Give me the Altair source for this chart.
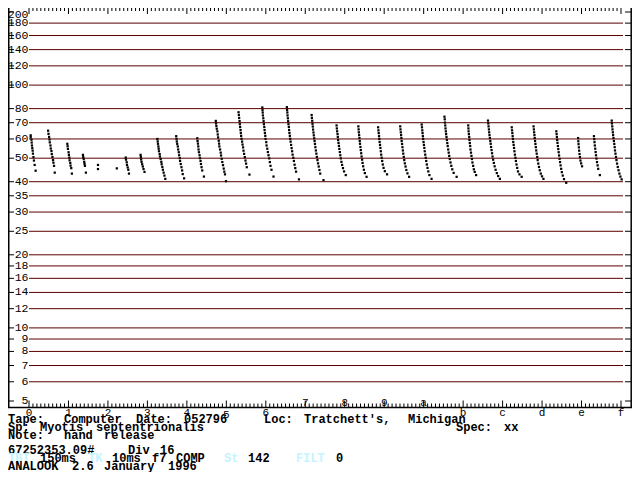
import re
import altair as alt
import pandas as pd

# ---------------- data (time in display units 0..f, frequency in kHz) ----------------
pulse_t = [
    [0.043, 0.043, 0.063, 0.068, 0.075, 0.083, 0.093, 0.100, 0.113, 0.125, 0.143, 0.168],
    [0.484, 0.494, 0.509, 0.519, 0.527, 0.544, 0.552, 0.569, 0.577, 0.594, 0.609, 0.619, 0.634, 0.652],
    [0.971, 0.978, 0.986, 1.003, 1.011, 1.021, 1.028, 1.046, 1.053, 1.071, 1.086],
    [1.367, 1.374, 1.387, 1.400, 1.407, 1.417, 1.442],
    [1.748, 1.748],
    [2.225],
    [2.450, 2.458, 2.476, 2.483, 2.501, 2.516, 2.533],
    [2.827, 2.834, 2.842, 2.852, 2.867, 2.884, 2.902, 2.927],
    [3.253, 3.261, 3.268, 3.278, 3.286, 3.293, 3.311, 3.318, 3.336, 3.353, 3.361, 3.378, 3.393, 3.411, 3.431, 3.454],
    [3.730, 3.737, 3.745, 3.755, 3.770, 3.780, 3.795, 3.805, 3.820, 3.828, 3.845, 3.863, 3.880, 3.895, 3.930],
    [4.264, 4.271, 4.281, 4.289, 4.296, 4.306, 4.322, 4.332, 4.347, 4.357, 4.372, 4.389, 4.432],
    [4.733, 4.740, 4.748, 4.758, 4.773, 4.783, 4.791, 4.808, 4.816, 4.823, 4.841, 4.858, 4.866, 4.883, 4.898, 4.916, 4.934, 4.949, 4.966, 4.991],
    [5.310, 5.317, 5.325, 5.335, 5.342, 5.350, 5.360, 5.367, 5.375, 5.385, 5.400, 5.410, 5.425, 5.435, 5.450, 5.468, 5.485, 5.500, 5.518, 5.586],
    [5.912, 5.917, 5.922, 5.927, 5.937, 5.944, 5.952, 5.962, 5.969, 5.977, 5.987, 5.994, 6.012, 6.019, 6.037, 6.052, 6.069, 6.087, 6.102, 6.119, 6.144, 6.195],
    [6.534, 6.539, 6.546, 6.551, 6.559, 6.566, 6.574, 6.584, 6.591, 6.599, 6.609, 6.619, 6.629, 6.641, 6.654, 6.667, 6.679, 6.697, 6.712, 6.729, 6.747, 6.767, 6.840],
    [7.161, 7.168, 7.176, 7.183, 7.191, 7.198, 7.208, 7.216, 7.226, 7.236, 7.246, 7.256, 7.269, 7.281, 7.294, 7.309, 7.324, 7.341, 7.359, 7.379, 7.462],
    [7.793, 7.800, 7.808, 7.818, 7.825, 7.833, 7.843, 7.853, 7.863, 7.876, 7.888, 7.901, 7.916, 7.933, 7.956, 7.983, 8.026],
    [8.345, 8.352, 8.357, 8.365, 8.372, 8.380, 8.387, 8.397, 8.407, 8.417, 8.427, 8.440, 8.452, 8.467, 8.485, 8.510, 8.553],
    [8.846, 8.854, 8.861, 8.869, 8.876, 8.884, 8.894, 8.904, 8.914, 8.924, 8.936, 8.949, 8.964, 8.984, 9.016, 9.072],
    [9.406, 9.413, 9.421, 9.428, 9.436, 9.443, 9.453, 9.463, 9.473, 9.483, 9.496, 9.508, 9.523, 9.541, 9.561, 9.589, 9.631],
    [9.950, 9.957, 9.965, 9.972, 9.980, 9.987, 9.997, 10.007, 10.017, 10.027, 10.040, 10.052, 10.065, 10.080, 10.097, 10.117, 10.145, 10.200],
    [10.527, 10.534, 10.539, 10.547, 10.554, 10.562, 10.569, 10.579, 10.589, 10.599, 10.609, 10.622, 10.634, 10.647, 10.662, 10.680, 10.700, 10.725, 10.760, 10.835],
    [11.129, 11.134, 11.139, 11.146, 11.154, 11.161, 11.169, 11.179, 11.186, 11.199, 11.211, 11.224, 11.236, 11.254, 11.271, 11.294, 11.329],
    [11.630, 11.638, 11.645, 11.653, 11.660, 11.668, 11.678, 11.688, 11.698, 11.708, 11.720, 11.733, 11.745, 11.760, 11.778, 11.798, 11.823, 11.853, 11.888, 11.931],
    [12.232, 12.240, 12.247, 12.255, 12.262, 12.270, 12.280, 12.290, 12.300, 12.312, 12.325, 12.337, 12.352, 12.370, 12.390, 12.427, 12.483],
    [12.784, 12.792, 12.799, 12.807, 12.814, 12.822, 12.832, 12.842, 12.852, 12.864, 12.877, 12.889, 12.904, 12.922, 12.942, 12.967, 12.999, 13.035],
    [13.361, 13.369, 13.376, 13.384, 13.391, 13.401, 13.411, 13.421, 13.431, 13.444, 13.456, 13.469, 13.484, 13.501, 13.524, 13.556, 13.612],
    [13.913, 13.918, 13.925, 13.933, 13.940, 13.950, 13.960, 13.973, 13.990, 14.013],
    [14.314, 14.322, 14.329, 14.337, 14.347, 14.357, 14.367, 14.379, 14.392, 14.407, 14.422, 14.464],
    [14.765, 14.770, 14.778, 14.785, 14.793, 14.800, 14.810, 14.820, 14.830, 14.840, 14.848, 14.860, 14.873, 14.885, 14.900, 14.918, 14.938, 14.960, 14.985, 15.016],
]
pulse_f = [
    [62.1, 61.0, 59.6, 58.0, 56.4, 55.0, 53.7, 52.2, 50.5, 48.9, 46.9, 44.4],
    [64.9, 63.0, 61.2, 59.7, 58.1, 56.4, 54.8, 53.5, 52.0, 50.6, 49.1, 47.9, 46.5, 43.6],
    [57.3, 56.0, 54.6, 52.9, 51.6, 50.3, 49.0, 47.8, 46.6, 45.5, 43.2],
    [51.6, 50.6, 49.6, 48.3, 47.4, 46.5, 43.6],
    [46.9, 45.1],
    [45.4],
    [50.3, 49.3, 48.1, 46.9, 45.8, 44.8, 43.2],
    [51.6, 50.6, 49.4, 48.3, 47.2, 46.2, 45.1, 43.9],
    [60.0, 58.6, 57.3, 55.9, 54.7, 53.4, 52.0, 50.8, 49.6, 48.3, 47.2, 46.0, 44.8, 43.6, 42.4, 41.1],
    [61.6, 60.1, 58.6, 57.3, 55.9, 54.3, 52.9, 51.4, 50.0, 48.7, 47.3, 45.9, 44.5, 43.0, 41.3],
    [60.4, 58.8, 57.4, 55.9, 54.3, 52.9, 51.4, 50.0, 48.7, 47.3, 45.9, 44.5, 42.0],
    [71.2, 69.5, 67.8, 66.1, 64.5, 62.6, 60.9, 59.0, 57.4, 55.9, 54.3, 52.7, 51.3, 49.7, 48.2, 46.8, 45.3, 44.0, 42.9, 40.2],
    [77.3, 75.3, 73.2, 71.1, 69.0, 67.2, 65.3, 63.5, 61.8, 60.1, 58.5, 56.9, 55.4, 53.7, 52.1, 50.5, 48.9, 47.5, 45.9, 42.8],
    [80.9, 78.9, 77.1, 75.0, 73.0, 71.0, 69.0, 67.2, 65.3, 63.5, 61.8, 60.0, 58.2, 56.4, 54.7, 53.0, 51.4, 49.9, 48.2, 46.5, 44.8, 42.0],
    [81.1, 78.9, 77.1, 75.0, 73.0, 71.0, 69.0, 67.2, 65.3, 63.5, 61.8, 60.1, 58.5, 56.7, 55.0, 53.4, 51.7, 50.2, 48.7, 47.0, 45.5, 44.0, 40.9],
    [75.3, 73.3, 71.3, 69.3, 67.5, 65.6, 63.8, 62.1, 60.4, 58.8, 57.2, 55.5, 53.8, 52.2, 50.6, 49.1, 47.6, 46.2, 44.7, 43.2, 40.6],
    [68.2, 66.3, 64.5, 62.8, 61.1, 59.4, 57.8, 56.2, 54.6, 53.0, 51.4, 49.9, 48.3, 46.9, 45.5, 44.1, 42.6],
    [67.6, 65.7, 63.9, 62.2, 60.5, 58.8, 57.3, 55.6, 54.0, 52.4, 50.8, 49.3, 47.8, 46.3, 44.8, 43.4, 41.9],
    [67.0, 65.1, 63.4, 61.6, 60.0, 58.3, 56.7, 55.1, 53.4, 51.7, 50.2, 48.7, 47.1, 45.6, 44.2, 42.9],
    [67.6, 65.7, 63.9, 62.2, 60.5, 58.8, 57.2, 55.5, 53.8, 52.2, 50.6, 49.1, 47.6, 46.2, 44.7, 43.3, 41.9],
    [68.8, 67.0, 65.1, 63.4, 61.6, 60.0, 58.3, 56.7, 55.1, 53.4, 51.7, 50.2, 48.7, 47.1, 45.6, 44.1, 42.6, 41.1],
    [74.1, 72.3, 70.1, 68.2, 66.3, 64.5, 62.8, 61.1, 59.4, 57.7, 56.1, 54.3, 52.7, 51.1, 49.6, 48.0, 46.5, 45.0, 43.5, 41.9],
    [68.2, 66.3, 64.5, 62.8, 61.1, 59.4, 57.7, 56.1, 54.3, 52.7, 51.1, 49.6, 48.0, 46.5, 45.0, 43.9, 42.6],
    [71.4, 69.5, 67.6, 65.7, 63.9, 62.2, 60.5, 58.8, 57.3, 55.6, 54.0, 52.4, 50.8, 49.3, 47.8, 46.3, 44.8, 43.4, 42.2, 41.1],
    [67.0, 65.1, 63.4, 61.6, 60.0, 58.3, 56.7, 55.1, 53.4, 51.7, 50.2, 48.7, 47.1, 45.6, 44.1, 42.9, 41.9],
    [67.6, 65.7, 63.9, 62.2, 60.5, 58.8, 57.2, 55.5, 53.8, 52.2, 50.6, 49.1, 47.5, 46.0, 44.6, 43.2, 42.1, 41.1],
    [64.5, 62.8, 61.1, 59.4, 57.8, 56.1, 54.5, 52.9, 51.3, 49.7, 48.2, 46.7, 45.2, 43.8, 42.4, 41.0, 39.6],
    [60.5, 58.7, 57.1, 55.4, 53.7, 52.0, 50.5, 48.9, 47.6, 46.3],
    [61.6, 59.9, 58.2, 56.4, 54.7, 53.0, 51.4, 49.8, 48.2, 46.7, 45.2, 42.6],
    [71.4, 69.5, 67.6, 65.7, 63.9, 62.2, 60.5, 58.8, 57.2, 55.5, 53.8, 52.2, 50.6, 49.1, 47.5, 46.0, 44.6, 43.2, 42.0, 40.9],
]

y_labels = [200, 180, 160, 140, 120, 100, 80, 70, 60, 50, 40, 35, 30, 25, 20, 18, 16, 14, 12, 10, 9, 8, 7, 6, 5]
grid_values = [180, 160, 140, 120, 100, 80, 70, 60, 50, 40, 35, 30, 25, 20, 18, 16, 14, 12, 10, 9, 8, 7, 6]
x_labels = ["0", "1", "2", "3", "4", "5", "6", "7", "8", "9", "a", "b", "c", "d", "e", "f"]
x_raised = ["7", "8", "9", "a"]
x_lowered = ["5"]

header_lines = [
    "Tape:  Computer Date: 052796    Loc: Tratchett's, Michigan",
    "Sp: Myotis septentrionalis                              Spec: xx",
    "Note:  hand release",
    "",
    "67252353.09#   Div 16",
    "TBT 150ms TK 10ms f7 COMP  St 142   FILT 0",
    "ANALOOK 2.6 January 1996",
]
cyan_words = ["TBT", "TK", "St", "FILT"]

# ---------------- layout / style ----------------
W, H = 624, 464
GRID = "#5a0000"
CYAN = "#c4f4ff"
AXIS_Y = 399.5
CHAR_W = 8
xs = alt.Scale(domain=[0, 15], range=[21, 613], nice=False, zero=False)
ys = alt.Scale(type="log", domain=[5, 200], range=[393, 4], nice=False)
MONO = "Liberation Mono"

rows = []
for i, (ts, fs) in enumerate(zip(pulse_t, pulse_f)):
    for t, f in zip(ts, fs):
        rows.append({"pulse": i + 1, "t": t, "f": f})
dots_df = pd.DataFrame(rows)

one = pd.DataFrame({"a": [0]})


def X():
    return alt.X("t:Q", scale=xs, axis=None)


def Y():
    return alt.Y("f:Q", scale=ys, axis=None)


layers = []

# gridlines
layers.append(alt.Chart(pd.DataFrame({"f": grid_values})).mark_rule(color=GRID, strokeWidth=1).encode(
    y=Y(), x=alt.value(21), x2=alt.value(615)))

lab_df = pd.DataFrame({"f": y_labels, "lab": [str(v) for v in y_labels]})
# left & right ticks
layers.append(alt.Chart(lab_df).mark_rule(color="black", strokeWidth=1).encode(
    y=Y(), x=alt.value(0), x2=alt.value(6)))
layers.append(alt.Chart(lab_df).mark_rule(color="black", strokeWidth=1).encode(
    y=Y(), x=alt.value(617), x2=alt.value(623)))
# y labels (the top one hangs below the frame edge so it is not clipped)
top_lab = lab_df[lab_df["f"] == max(y_labels)]
rest_lab = lab_df[lab_df["f"] != max(y_labels)]
layers.append(alt.Chart(rest_lab).mark_text(align="right", baseline="middle", font=MONO, fontSize=11.5,
                                            color="black").encode(y=Y(), x=alt.value(20.5), text="lab:N"))
layers.append(alt.Chart(top_lab).mark_text(align="right", baseline="top", font=MONO, fontSize=11.5,
                                           color="black").encode(y=alt.value(1), x=alt.value(20.5), text="lab:N"))

# frame lines
layers.append(alt.Chart(one).mark_rule(color="black", strokeWidth=1.5).encode(
    x=alt.value(0.75), y=alt.value(0), y2=alt.value(AXIS_Y)))
layers.append(alt.Chart(one).mark_rule(color="black", strokeWidth=1.5).encode(
    x=alt.value(623.2), y=alt.value(0), y2=alt.value(AXIS_Y)))
layers.append(alt.Chart(one).mark_rule(color="black", strokeWidth=1.5).encode(
    y=alt.value(AXIS_Y), x=alt.value(0), x2=alt.value(624)))

# ticks along bottom and top
tick_pos = [i / 10 for i in range(151)]
minor_df = pd.DataFrame({"t": [p for i, p in enumerate(tick_pos) if i % 10 != 0]})
major_df = pd.DataFrame({"t": [p for i, p in enumerate(tick_pos) if i % 10 == 0]})
layers.append(alt.Chart(minor_df).mark_rule(color="black").encode(x=X(), y=alt.value(AXIS_Y), y2=alt.value(AXIS_Y - 4)))
layers.append(alt.Chart(major_df).mark_rule(color="black").encode(x=X(), y=alt.value(AXIS_Y), y2=alt.value(AXIS_Y - 7)))
layers.append(alt.Chart(minor_df).mark_rule(color="black").encode(x=X(), y=alt.value(0), y2=alt.value(3)))
layers.append(alt.Chart(major_df).mark_rule(color="black").encode(x=X(), y=alt.value(0), y2=alt.value(6)))

# x labels
xl = pd.DataFrame({"t": list(range(len(x_labels))), "lab": x_labels})
for sel, by in [(lambda s: s not in x_raised and s not in x_lowered, 407.5),
                (lambda s: s in x_raised, 397.5), (lambda s: s in x_lowered, 409.5)]:
    sub = xl[xl["lab"].map(sel)]
    layers.append(alt.Chart(sub).mark_text(align="center", baseline="alphabetic", font=MONO, fontSize=11,
                                           color="black").encode(x=X(), y=alt.value(by), text="lab:N"))

# call dots
layers.append(alt.Chart(dots_df).mark_square(size=5, color="black", opacity=1).encode(x=X(), y=Y()))

# header text: one text mark per word, placed on the 8-px character grid
baselines = [414.5, 422.5, 430.5, 438, 446, 454, 461.5]
for line, base in zip(header_lines, baselines):
    for m in re.finditer(r"\S+", line):
        word = m.group(0)
        col = CYAN if word in cyan_words else "black"
        layers.append(alt.Chart(pd.DataFrame({"s": [word]})).mark_text(
            align="left", baseline="alphabetic", font=MONO, fontSize=12, fontWeight="bold",
            color=col).encode(x=alt.value(m.start() * CHAR_W), y=alt.value(base), text="s:N"))

chart = alt.layer(*layers).properties(
    width=W, height=H, padding=0, background="white",
    autosize=alt.AutoSizeParams(type="none"),
).configure_view(stroke=None)

chart.save("out.html", embed_options={"renderer": "svg", "actions": False})
